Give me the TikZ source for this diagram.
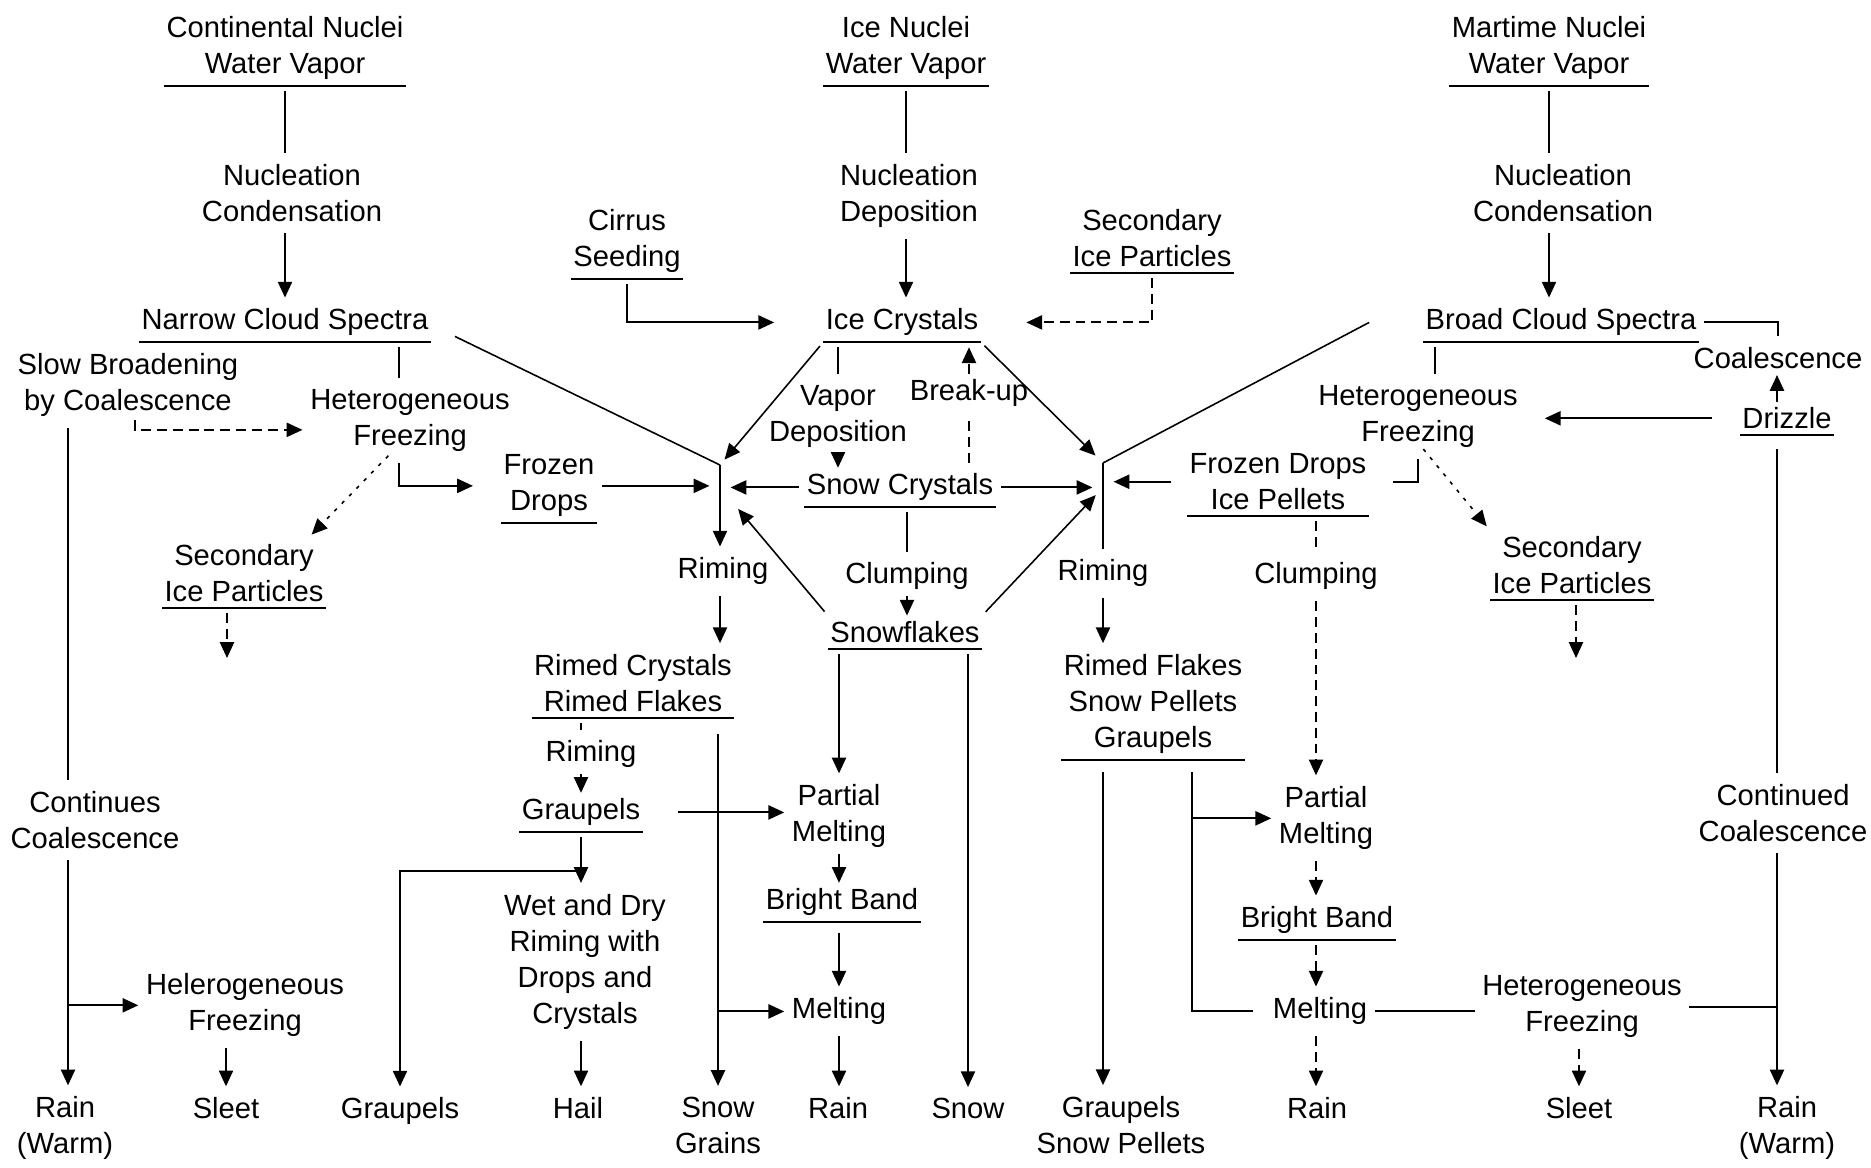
\documentclass[tikz,border=0pt]{standalone}
\usepackage{fontspec}
\setmainfont{Liberation Sans}
\usetikzlibrary{arrows.meta, calc}
\tikzset{
    >=Latex,
    pr_text/.style={
        inner xsep=0.5pt,
        inner ysep=1.5pt,
        align=center,
        anchor=south
    },
    pr_uline/.style={
        draw,
        -,
        line width=0.6pt
    },
    pr_state/.style={
        pr_text,
        append after command={
            (\tikzlastnode.south west) edge[pr_uline] (\tikzlastnode.south east)
        }
    },
    pr_link/.style={
        -,
        line width=0.6pt,
        shorten >=1.5pt,
        shorten <=1.5pt
    },
    pr_arrow/.style={
        -{Triangle[length=4.5pt, width=4pt]},
        line width=0.6pt,
        shorten >=1.5pt,
        shorten <=1.5pt
    },
    pr_dashed_link/.style={
        pr_link,
        dash pattern=on 2.8pt off 1.7pt
    },
    pr_dashed_arrow/.style={
        pr_arrow,
        dash pattern=on 2.8pt off 1.7pt
    },
    pr_dotted_arrow/.style={
        pr_arrow,
        line width=0.45pt,
        dash pattern=on 1pt off 2pt
    },
    pr_diag/.style={
        line width=0.45pt
    }
}

\begin{document}
\begin{tikzpicture}[x=0.1mm, y=-0.1mm, font=\fontsize{8.3}{10.3}\selectfont]

\path[fill=white, use as bounding box] (0,0) rectangle (1871,1168);

% --- Junctions and trunk lines ---
\coordinate (trunkL) at (68,0);
\coordinate (narrowTap) at (399,0);
\coordinate (hubL) at (720,465);
\coordinate (hubR) at (1103,463);
\coordinate (grFork) at (581,871);
\coordinate (branchR) at (1192,0);
\coordinate (broadTap) at (1435,0);
\coordinate (trunkR) at (1777,0);
\coordinate (secLEnd) at (227,658);
\coordinate (secREnd) at (1576,658);

% --- Left column (continental) ---
\node[pr_state] (ContNuclei) at (285,86) {Continental Nuclei\\Water Vapor};
\node[pr_text] (NucCondL) at (292,228) {Nucleation\\Condensation};
\node[pr_state] (NarrowSpectra) at (285,342) {Narrow Cloud Spectra};
\node[pr_text] (SlowBroad) at (128,423) {Slow Broadening\\by Coalescence};
\node[pr_text] (HetFreezeL) at (410,458) {Heterogeneous\\Freezing};
\node[pr_state] (FrozenDropsL) at (549,523) {Frozen\\Drops};
\node[pr_state] (SecIceL) at (244,608) {Secondary\\Ice Particles};
\node[pr_text] (ContCoalL) at (95,855) {Continues\\Coalescence};
\node[pr_text] (HelFreeze) at (245,1043) {Helerogeneous\\Freezing};
\node[pr_text] (RainWarmL) at (65,1166) {Rain\\(Warm)};
\node[pr_text] (SleetL) at (226,1125) {Sleet};
\node[pr_text] (GraupelsL) at (400,1131) {Graupels};

% --- Centre column (ice) ---
\node[pr_state] (IceNuclei) at (906,86) {Ice Nuclei\\Water Vapor};
\node[pr_text] (NucDep) at (909,234) {Nucleation\\Deposition};
\node[pr_state] (Cirrus) at (627,279) {Cirrus\\Seeding};
\node[pr_state] (SecIceC) at (1152,273) {Secondary\\Ice Particles};
\node[pr_state] (IceCrystals) at (902,342) {Ice Crystals};
\node[pr_text] (VapDep) at (838,454) {Vapor\\Deposition};
\node[pr_text] (BreakUp) at (969,413) {Break-up};
\node[pr_state] (SnowCrystals) at (900,507) {Snow Crystals};
\node[pr_text] (ClumpC) at (907,596) {Clumping};
\node[pr_state] (Snowflakes) at (905,649) {Snowflakes};
\node[pr_text] (RimingL) at (723,591) {Riming};
\node[pr_state] (RimedCF) at (633,718) {Rimed Crystals\\Rimed Flakes};
\node[pr_text] (RimingG) at (591,774) {Riming};
\node[pr_state] (GraupelsC) at (581,832) {Graupels};
\node[pr_text] (WetDry) at (585,1036) {Wet and Dry\\Riming with\\Drops and\\Crystals};
\node[pr_text] (PartMeltC) at (839,854) {Partial\\Melting};
\node[pr_state] (BrightC) at (842,922) {Bright Band};
\node[pr_text] (MeltC) at (839,1031) {Melting};
\node[pr_text] (Hail) at (578,1125) {Hail};
\node[pr_text] (SnowGrains) at (718,1160) {Snow\\Grains};
\node[pr_text] (RainC) at (838,1125) {Rain};
\node[pr_text] (Snow) at (968,1125) {Snow};

% --- Right column (maritime) ---
\node[pr_state] (MarNuclei) at (1549,86) {Martime Nuclei\\Water Vapor};
\node[pr_text] (NucCondR) at (1563,228) {Nucleation\\Condensation};
\node[pr_state] (BroadSpectra) at (1561,342) {Broad Cloud Spectra};
\node[pr_text] (Coalesce) at (1778,375) {Coalescence};
\node[pr_state] (Drizzle) at (1787,435) {Drizzle};
\node[pr_text] (HetFreezeR) at (1418,454) {Heterogeneous\\Freezing};
\node[pr_state] (FrozenPellets) at (1278,516) {Frozen Drops\\Ice Pellets};
\node[pr_state] (SecIceR) at (1572,600) {Secondary\\Ice Particles};
\node[pr_text] (RimingR) at (1103,593) {Riming};
\node[pr_text] (ClumpR) at (1316,596) {Clumping};
\node[pr_state] (RimedFSG) at (1153,760) {Rimed Flakes\\Snow Pellets\\Graupels};
\node[pr_text] (PartMeltR) at (1326,856) {Partial\\Melting};
\node[pr_state] (BrightR) at (1317,940) {Bright Band};
\node[pr_text] (MeltR) at (1320,1031) {Melting};
\node[pr_text] (HetFreezeB) at (1582,1044) {Heterogeneous\\Freezing};
\node[pr_text] (ContCoalR) at (1783,848) {Continued\\Coalescence};
\node[pr_text] (GraupelsSP) at (1121,1160) {Graupels\\Snow Pellets};
\node[pr_text] (RainR) at (1317,1125) {Rain};
\node[pr_text] (SleetR) at (1579,1125) {Sleet};
\node[pr_text] (RainWarmR) at (1787,1166) {Rain\\(Warm)};

% --- Edges: left ---
\draw[pr_link] (ContNuclei.south) -- (ContNuclei.south |- NucCondL.north);
\draw[pr_arrow] (NucCondL.south -| NarrowSpectra.north) -- (NarrowSpectra.north);
\draw[pr_link] (NarrowSpectra.south -| narrowTap) -- (HetFreezeL.north -| narrowTap);
\draw[pr_arrow, shorten >=8pt] (HetFreezeL.south -| narrowTap) |- (FrozenDropsL.west);
\draw[pr_dotted_arrow] ($(HetFreezeL.south)+(-18,-6)$) -- ($(SecIceL.north east)+(-18,0)$);
\draw[pr_dashed_arrow, shorten >=0pt] (SecIceL.south -| secLEnd) -- (secLEnd);
\draw[pr_dashed_arrow] ($(SlowBroad.south)+(7,-8)$) |- ($(HetFreezeL.west)+(0,9)$);
\draw[pr_link] (SlowBroad.south -| trunkL) -- (ContCoalL.north -| trunkL);
\draw[pr_arrow] (ContCoalL.south -| trunkL) -- (RainWarmL.north -| trunkL);
\draw[pr_arrow, shorten <=0pt] (HelFreeze.west -| trunkL) -- (HelFreeze.west);
\draw[pr_arrow] (HelFreeze.south -| SleetL.north) -- (SleetL.north);

% --- Edges: centre ---
\draw[pr_link] (IceNuclei.south) -- (IceNuclei.south |- NucDep.north);
\draw[pr_arrow] (NucDep.south -| IceNuclei.south) -- (IceCrystals.north -| IceNuclei.south);
\draw[pr_arrow, shorten >=14pt] (Cirrus.south) |- (IceCrystals.west);
\draw[pr_dashed_arrow, shorten >=13pt] (SecIceC.south) |- (IceCrystals.east);
\draw[pr_link, pr_diag, shorten <=0pt, shorten >=0pt] ($(NarrowSpectra.east)+(24,14)$) -- (hubL);
\draw[pr_arrow, pr_diag, shorten >=2pt] (IceCrystals.south west) -- (hubL);
\draw[pr_arrow, shorten <=0pt] (hubL) -- (hubL |- RimingL.north);
\draw[pr_link] (IceCrystals.south -| VapDep.north) -- (VapDep.north);
\draw[pr_arrow, shorten >=0pt, shorten <=0pt] (VapDep.south) -- (VapDep.south |- SnowCrystals.north);
\draw[pr_dashed_link] (SnowCrystals.north -| BreakUp.south) -- (BreakUp.south);
\draw[pr_dashed_arrow, shorten <=0pt] (BreakUp.north) -- (IceCrystals.south -| BreakUp.north);
\draw[pr_arrow, shorten >=3pt] (SnowCrystals.west) -- (SnowCrystals.west -| hubL);
\draw[pr_arrow, shorten >=3pt] (FrozenDropsL.east) -- (FrozenDropsL.east -| hubL);
\draw[pr_arrow, pr_diag, shorten >=8pt] (Snowflakes.north west) -- (SnowCrystals.west -| hubL);
\draw[pr_link] (SnowCrystals.south -| ClumpC.north) -- (ClumpC.north);
\draw[pr_arrow, shorten >=0pt, shorten <=0pt] (ClumpC.south) -- (ClumpC.south |- Snowflakes.north);
\draw[pr_arrow] (RimingL.south -| hubL) -- (RimedCF.north -| hubL);
\draw[pr_link] (RimedCF.south -| GraupelsC.north) -- (RimingG.north -| GraupelsC.north);
\draw[pr_arrow, shorten >=0pt, shorten <=0pt] (RimingG.south -| GraupelsC.north) -- (GraupelsC.north);
\draw[pr_arrow, shorten <=4.5pt] (RimedCF.south -| SnowGrains.north) -- (SnowGrains.north);
\draw[pr_arrow, shorten <=10pt] (GraupelsC.east) -- (GraupelsC.east -| PartMeltC.west);
\draw[pr_arrow] (GraupelsC.south) -- (GraupelsC.south |- WetDry.north);
\draw[pr_arrow, shorten <=0pt] (grFork) -| (GraupelsL.north);
\draw[pr_arrow] (WetDry.south -| GraupelsC.south) -- (Hail.north -| GraupelsC.south);
\draw[pr_arrow] (Snowflakes.south -| PartMeltC.north) -- (PartMeltC.north);
\draw[pr_arrow, shorten >=0pt, shorten <=0pt] (PartMeltC.south) -- (PartMeltC.south |- BrightC.north);
\draw[pr_arrow, shorten <=3pt] (BrightC.south -| MeltC.north) -- (MeltC.north);
\draw[pr_arrow, shorten <=0pt] (MeltC.west -| SnowGrains.north) -- (MeltC.west);
\draw[pr_arrow] (MeltC.south) -- (MeltC.south |- RainC.north);
\draw[pr_arrow] (Snowflakes.south -| Snow.north) -- (Snow.north);

% --- Edges: right ---
\draw[pr_link] (MarNuclei.south) -- (MarNuclei.south |- NucCondR.north);
\draw[pr_arrow] (NucCondR.south -| MarNuclei.south) -- (BroadSpectra.north -| MarNuclei.south);
\draw[pr_link] (BroadSpectra.east) -| (Coalesce.north);
\draw[pr_arrow, shorten >=0pt, shorten <=0pt] (Drizzle.north -| trunkR) -- (Coalesce.south -| trunkR);
\draw[pr_arrow, shorten >=7pt, shorten <=8pt] (Drizzle.west) -- (Drizzle.west -| HetFreezeR.east);
\draw[pr_link] (BroadSpectra.south -| broadTap) -- (HetFreezeR.north -| broadTap);
\draw[pr_link, shorten >=7pt] (HetFreezeR.south) |- (FrozenPellets.east);
\draw[pr_dotted_arrow] ($(HetFreezeR.south)+(2,-9)$) -- (SecIceR.north west);
\draw[pr_dashed_arrow, shorten >=0pt] (SecIceR.south -| secREnd) -- (secREnd);
\draw[pr_link, pr_diag, shorten <=0pt, shorten >=0pt] ($(BroadSpectra.west)+(-54,0)$) -- (hubR);
\draw[pr_link, shorten <=0pt] (hubR) -- (RimingR.north);
\draw[pr_arrow, pr_diag, shorten >=3pt] (IceCrystals.south east) -- (hubR);
\draw[pr_arrow, shorten >=3pt] (SnowCrystals.east) -- (SnowCrystals.east -| hubR);
\draw[pr_arrow, shorten >=3pt, shorten <=4.5pt] (FrozenPellets.west) -- (FrozenPellets.west -| hubR);
\draw[pr_arrow, pr_diag, shorten >=3pt] (Snowflakes.north east) -- (SnowCrystals.east -| hubR);
\draw[pr_arrow] (RimingR.south) -- (RimingR.south |- RimedFSG.north);
\draw[pr_arrow, shorten <=3.5pt] (RimedFSG.south -| RimingR.south) -- (GraupelsSP.north -| RimingR.south);
\draw[pr_link, shorten <=3.5pt, shorten >=5pt] (RimedFSG.south -| branchR) |- (MeltR.west);
\draw[pr_arrow, shorten <=0pt] (PartMeltR.west -| branchR) -- (PartMeltR.west);
\draw[pr_dashed_link] (FrozenPellets.south -| ClumpR.north) -- (ClumpR.north);
\draw[pr_dashed_arrow] (ClumpR.south) -- (ClumpR.south |- PartMeltR.north);
\draw[pr_dashed_arrow] (PartMeltR.south -| ClumpR.south) -- (BrightR.north -| ClumpR.south);
\draw[pr_dashed_arrow] (BrightR.south -| ClumpR.south) -- (MeltR.north -| ClumpR.south);
\draw[pr_dashed_arrow] (MeltR.south -| ClumpR.south) -- (RainR.north -| ClumpR.south);
\draw[pr_link] (MeltR.east) -- (MeltR.east -| HetFreezeB.west);
\draw[pr_dashed_arrow] (HetFreezeB.south -| SleetR.north) -- (SleetR.north);
\draw[pr_link, shorten >=0pt] (HetFreezeB.east) -- (HetFreezeB.east -| trunkR);
\draw[pr_link, shorten <=4pt] (Drizzle.south -| trunkR) -- (ContCoalR.north -| trunkR);
\draw[pr_arrow] (ContCoalR.south -| trunkR) -- (RainWarmR.north -| trunkR);

\end{tikzpicture}
\end{document}
